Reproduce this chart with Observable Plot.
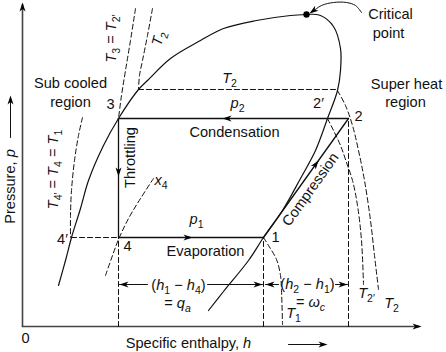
<!DOCTYPE html>
<html><head><meta charset="utf-8">
<script src="https://cdn.jsdelivr.net/npm/d3@7"></script>
<script src="https://cdn.jsdelivr.net/npm/@observablehq/plot@0.6"></script>
<style>
html,body{margin:0;padding:0;background:#fff;}
svg text{font-family:"Liberation Sans",Arial,Helvetica,sans-serif;}
</style>
</head><body><div id="chart"></div>
<script>
// ---- cycle state points (h = specific enthalpy, p = pressure; schematic units) ----
const h3 = 96;      // h3 = h4
const h1 = 241;
const h2 = 326;
const h2p = 305;
const h4p = 49;
const p1 = 89;
const p2 = 208;
const pT2 = 237;
const hMax = 397;
const pMax = 322;
const pDim = 42;
const criticalPoint = [[284, 312]];

// saturation dome
const satLiquid = [[36,41],[43,66],[49,89],[58,118],[66,146],[81,181],[96,208],[116,237],[125,246],[148,268],[178,286],[201,298],[234,306],[268,311],[284,312]];
const satVapor = [[284,312],[298,311],[311,300],[318,278],[318,256],[315,236],[305,208],[293,176],[278,148],[260,116],[241,89],[226,66],[201,35],[186,16]];

// isotherms and quality line (dashed)
const isoT3 = [[113,318],[108,286],[103,256],[99,231],[96,208]];
const isoT2Liquid = [[130,318],[125,291],[120,266],[117,251],[116,237]];
const isoT2Vapor = [[315,236],[323,221],[330,201],[336,176],[342,146],[348,106],[352,71],[356,37]];
const isoT2pVapor = [[305,208],[311,196],[318,181],[324,164],[330,146],[335,121],[339,86],[341,42]];
const isoT1Vapor = [[241,89],[246,81],[254,67],[258,51],[259,36],[260,2]];
const isoT4p = [[60,209],[56,191],[52,166],[49,136],[48,111],[48,89]];
const qualityX4 = [[83,51],[90,71],[96,87],[106,108],[118,128],[131,148]];
const criticalArrow = [[339,314],[333,321],[324,324],[311,324],[299,321],[289,314]];

// process lines (solid)
const processLines = [
  [[h2,p2],[h3,p2]],   // condensation
  [[h3,p2],[h3,p1]],   // throttling
  [[h3,p1],[h1,p1]],   // evaporation
  [[h1,p1],[h2,p2]]    // compression
];
// construction lines (dashed)
const dashedLines = [
  [[h4p,p1],[h3,p1]],
  [[h3,0],[h3,p1]],
  [[h1,0],[h1,p1]],
  [[h2,0],[h2,p2]],
  [[116,pT2],[315,pT2]]
];
// axes and small arrow lines
const axisLines = [[[0,0],[0,pMax]], [[0,0],[hMax,0]]];
const thinArrowLines = [
  [[-12,189],[-12,229]], [[266,-18],[303,-18]],
  [[97,pDim],[125,pDim]], [[185,pDim],[240,pDim]],
  [[243,pDim],[256,pDim]], [[313,pDim],[325,pDim]]
];
// arrow heads: tip and direction
const arrowHeads = [
  {h:0, p:324, dh:0, dp:1}, {h:399, p:0, dh:1, dp:0},
  {h:200, p:p2, dh:-1, dp:0}, {h:h3, p:150, dh:0, dp:-1},
  {h:170, p:p1, dh:1, dp:0}, {h:296, p:166, dh:h2-h1, dp:p2-p1},
  {h:287, p:313, dh:-7, dp:-5},
  {h:-12, p:231, dh:0, dp:1}, {h:305, p:-18, dh:1, dp:0},
  {h:97, p:pDim, dh:-1, dp:0}, {h:240, p:pDim, dh:1, dp:0},
  {h:243, p:pDim, dh:-1, dp:0}, {h:325, p:pDim, dh:1, dp:0}
];

// labels (markup: *italic*, _{sub}, _[italic sub])
const labels = [
  {h:368, p:312, text:"Critical"}, {h:366, p:293, text:"point"},
  {h:48, p:243, text:"Sub cooled"}, {h:48, p:224, text:"region"},
  {h:384, p:242, text:"Super heat"}, {h:383, p:224, text:"region"},
  {h:88, p:222, text:"3"}, {h:296, p:223, text:"2′"}, {h:336, p:210, text:"2"},
  {h:207, p:248, text:"*T*_{2}"}, {h:215, p:223, text:"*p*_{2}"},
  {h:212, p:194, text:"Condensation"},
  {h:174, p:107, text:"*p*_{1}"}, {h:183, p:75, text:"Evaporation"},
  {h:105, p:80, text:"4"}, {h:40, p:87, text:"4′"}, {h:253, p:89, text:"1"},
  {h:156, p:41, text:"(*h*_{1} − *h*_{4})"}, {h:155, p:23, text:"= *q*_[a]"},
  {h:285, p:42, text:"(*h*_{2} − *h*_{1})"}, {h:288, p:24, text:"= *ω*_[c]"},
  {h:271, p:13, text:"*T*_{1}"}, {h:344, p:33, text:"*T*_{2′}"}, {h:369, p:23, text:"*T*_{2}"},
  {h:3, p:-12, text:"0"}, {h:166, p:-17, text:"Specific enthalpy, *h*"}
];
const startLabels = [{h:132, p:146, text:"*x*_{4}"}];
const rotatedLabels = [
  {h:108, p:169, text:"Throttling", rotate:-90},
  {h:288, p:137, text:"Compression", rotate:-54.5},
  {h:89, p:288, text:"*T*_{3} = *T*_{2′}", rotate:-90},
  {h:136, p:288, text:"*T*_{2}", rotate:-75},
  {h:31, p:157, text:"*T*_{4′} = *T*_{4} = *T*_{1}", rotate:-90},
  {h:-12, p:140, text:"Pressure, *p*", rotate:-90}
];

function head(dh, dp, L = 9, W = 6) {
  const a = Math.atan2(-dp, dh), c = Math.cos(a), s = Math.sin(a);
  const pts = [[0,0],[-L,-W/2],[-L*0.72,0],[-L,W/2]].map(([x,y]) => [x*c - y*s, x*s + y*c]);
  return {draw(ctx) { ctx.moveTo(pts[0][0], pts[0][1]); for (let i = 1; i < 4; i++) ctx.lineTo(pts[i][0], pts[i][1]); ctx.closePath(); }};
}

const dash = "5,3";
const FS = 14.6;
const marks = [
  ...axisLines.map(l => Plot.line(l, {stroke:"#444", strokeWidth:1.6})),
  Plot.line(satLiquid, {curve:"catmull-rom", stroke:"#111", strokeWidth:1.2}),
  Plot.line(satVapor, {curve:"catmull-rom", stroke:"#111", strokeWidth:1.2}),
  ...[isoT3, isoT2Liquid, isoT2Vapor, isoT2pVapor, isoT1Vapor, isoT4p, qualityX4].map(l =>
    Plot.line(l, {curve:"catmull-rom", stroke:"#111", strokeWidth:1, strokeDasharray:dash})),
  ...dashedLines.map(l => Plot.line(l, {stroke:"#111", strokeWidth:1, strokeDasharray:dash})),
  ...processLines.map(l => Plot.line(l, {stroke:"#111", strokeWidth:1.3})),
  ...thinArrowLines.map(l => Plot.line(l, {stroke:"#111", strokeWidth:1})),
  Plot.line(criticalArrow, {curve:"catmull-rom", stroke:"#111", strokeWidth:1}),
  Plot.dot(criticalPoint, {r:3.2, fill:"#000"}),
  ...arrowHeads.map(a => Plot.dot([a], {x:"h", y:"p", symbol:head(a.dh, a.dp), fill:"#000", stroke:"none", r:4})),
  Plot.text(labels, {x:"h", y:"p", text:"text", fontSize:FS, fill:"#111"}),
  Plot.text(startLabels, {x:"h", y:"p", text:"text", fontSize:FS, fill:"#111", textAnchor:"start"}),
  ...rotatedLabels.map(d => Plot.text([d], {x:"h", y:"p", text:"text", fontSize:FS, fill:"#111", rotate:d.rotate}))
];

const chart = Plot.plot({
  width: 446, height: 352,
  marginTop: 0, marginRight: 0, marginBottom: 0, marginLeft: 0,
  x: {domain: [-22, 424], axis: null},
  y: {domain: [-26, 326], axis: null},
  style: {background: "#fff", fontFamily: "'Liberation Sans', Arial, sans-serif", overflow: "visible"},
  marks
});

// rich text: italics and subscripts
const NS = "http://www.w3.org/2000/svg";
chart.querySelectorAll("text").forEach(t => {
  const s = t.textContent;
  if (!/[*_]/.test(s)) return;
  while (t.firstChild) t.removeChild(t.firstChild);
  const re = /\*([^*]+)\*|_\{([^}]+)\}|_\[([^\]]+)\]|([^*_]+)/g;
  let m, shifted = false;
  while ((m = re.exec(s))) {
    const ts = document.createElementNS(NS, "tspan");
    if (m[1] !== undefined) { ts.textContent = m[1]; ts.setAttribute("font-style", "italic"); }
    else if (m[2] !== undefined || m[3] !== undefined) {
      ts.textContent = m[2] !== undefined ? m[2] : m[3];
      ts.setAttribute("font-size", 10.5);
      if (m[3] !== undefined) ts.setAttribute("font-style", "italic");
    } else ts.textContent = m[4];
    const isSub = m[2] !== undefined || m[3] !== undefined;
    if (isSub && !shifted) { ts.setAttribute("dy", 4); shifted = true; }
    else if (!isSub && shifted) { ts.setAttribute("dy", -4); shifted = false; }
    t.appendChild(ts);
  }
});
document.getElementById("chart").appendChild(chart);
</script>
</body></html>
